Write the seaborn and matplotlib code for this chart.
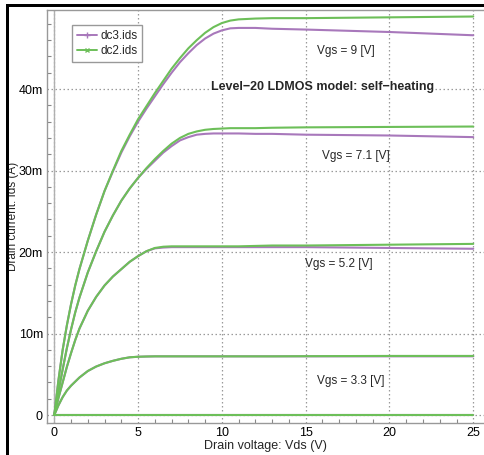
import matplotlib
matplotlib.use("Agg")
import matplotlib.pyplot as plt
import pandas as pd
import seaborn as sns
from matplotlib.lines import Line2D
from matplotlib.patches import Rectangle
from matplotlib.ticker import MultipleLocator, FuncFormatter

# Drain sweep points (V)
vds = [0, 0.25, 0.5, 0.75, 1, 1.25, 1.5, 2, 2.5, 3, 3.5, 4, 4.5, 5, 5.5, 6, 6.5,
       7, 7.5, 8, 8.5, 9, 9.5, 10, 10.5, 11, 12, 13, 15, 20, 25]

# Drain current (mA) per gate bias; dc3 = with self-heating, dc2 = without
ids_dc3_9v0 = [0, 4.3, 8.0, 11.0, 13.6, 15.9, 17.9, 21.4, 24.6, 27.5, 29.9, 32.2, 34.2, 36.0, 37.6, 39.1,
               40.6, 42.0, 43.3, 44.4, 45.4, 46.2, 46.8, 47.2, 47.45, 47.5, 47.5, 47.4, 47.3, 47.0, 46.6]
ids_dc2_9v0 = [0, 4.3, 8.0, 11.0, 13.6, 15.9, 17.9, 21.4, 24.6, 27.5, 30.0, 32.4, 34.4, 36.3, 37.9, 39.5,
               41.0, 42.5, 43.8, 45.0, 46.0, 46.9, 47.6, 48.1, 48.4, 48.55, 48.65, 48.7, 48.7, 48.8, 48.9]
ids_dc3_7v1 = [0, 2.9, 5.6, 8.2, 10.5, 12.6, 14.4, 17.5, 20.1, 22.5, 24.5, 26.3, 27.8, 29.1, 30.2, 31.2,
               32.2, 33.0, 33.7, 34.1, 34.4, 34.5, 34.55, 34.55, 34.55, 34.55, 34.5, 34.5, 34.4, 34.3, 34.1]
ids_dc2_7v1 = [0, 2.9, 5.6, 8.2, 10.5, 12.6, 14.4, 17.5, 20.1, 22.5, 24.5, 26.3, 27.8, 29.1, 30.3, 31.4,
               32.4, 33.3, 34.0, 34.5, 34.8, 35.0, 35.1, 35.15, 35.2, 35.2, 35.2, 35.25, 35.3, 35.35, 35.4]
ids_dc3_5v2 = [0, 2.1, 4.0, 5.9, 7.6, 9.2, 10.6, 12.8, 14.5, 15.9, 17.0, 17.9, 18.8, 19.5, 20.1, 20.45,
               20.55, 20.6, 20.6, 20.6, 20.6, 20.6, 20.6, 20.6, 20.6, 20.6, 20.6, 20.6, 20.6, 20.5, 20.4]
ids_dc2_5v2 = [0, 2.1, 4.0, 5.9, 7.6, 9.2, 10.6, 12.8, 14.5, 15.9, 17.0, 17.9, 18.8, 19.5, 20.1, 20.5,
               20.65, 20.7, 20.7, 20.7, 20.7, 20.7, 20.7, 20.7, 20.7, 20.7, 20.75, 20.8, 20.8, 20.9, 21.0]
ids_dc3_3v3 = [0, 1.2, 2.2, 3.0, 3.6, 4.1, 4.6, 5.4, 5.95, 6.35, 6.65, 6.9, 7.08, 7.15, 7.18, 7.2,
               7.2, 7.2, 7.2, 7.2, 7.2, 7.2, 7.2, 7.2, 7.2, 7.2, 7.2, 7.2, 7.2, 7.2, 7.2]
ids_dc2_3v3 = [0, 1.2, 2.2, 3.0, 3.6, 4.1, 4.6, 5.4, 5.95, 6.35, 6.65, 6.9, 7.08, 7.15, 7.18, 7.2,
               7.2, 7.2, 7.2, 7.2, 7.2, 7.2, 7.2, 7.2, 7.2, 7.2, 7.2, 7.2, 7.22, 7.25, 7.25]
ids_off = [0] * len(vds)

series_names = ["dc3.ids", "dc2.ids"]
vgs_labels = ["Vgs = 9 [V]", "Vgs = 7.1 [V]", "Vgs = 5.2 [V]", "Vgs = 3.3 [V]"]

curves = {
    "dc3.ids": {"9": ids_dc3_9v0, "7.1": ids_dc3_7v1, "5.2": ids_dc3_5v2, "3.3": ids_dc3_3v3, "0": ids_off},
    "dc2.ids": {"9": ids_dc2_9v0, "7.1": ids_dc2_7v1, "5.2": ids_dc2_5v2, "3.3": ids_dc2_3v3, "0": ids_off},
}

rows = []
for name in series_names:
    for vg, ids in curves[name].items():
        for v, i in zip(vds, ids):
            rows.append({"Vds": v, "Ids": i, "series": name, "Vgs": vg})
df = pd.DataFrame(rows)

purple = "#a878bb"
green = "#6dbf59"
palette = {"dc3.ids": purple, "dc2.ids": green}

sns.set_theme(style="white")
plt.rcParams["font.family"] = ["Liberation Sans", "DejaVu Sans"]

W, H = 484, 455
fig = plt.figure(figsize=(W / 100, H / 100), dpi=100)
ax = fig.add_axes([47 / W, 1 - 423 / H, (484 - 47) / W, (423 - 10) / H])

for name in series_names:
    sns.lineplot(data=df[df["series"] == name], x="Vds", y="Ids", units="Vgs",
                 estimator=None, color=palette[name], linewidth=1.5,
                 sort=False, legend=False, ax=ax)

ax.set_xlim(-0.435, 25.64)
ax.set_ylim(-0.98, 49.7)

ax.xaxis.set_major_locator(MultipleLocator(5))
ax.xaxis.set_minor_locator(MultipleLocator(1))
ax.yaxis.set_major_locator(MultipleLocator(10))
ax.yaxis.set_minor_locator(MultipleLocator(2))
ax.yaxis.set_major_formatter(FuncFormatter(lambda v, p: "0" if v == 0 else f"{v:g}m"))
ax.xaxis.set_major_formatter(FuncFormatter(lambda v, p: f"{v:g}"))

ax.grid(True, which="major", color="#9a9a9a", linestyle=(0, (1.2, 2.0)), linewidth=0.9)
ax.axvline(0, color="#b0b0b0", linewidth=1.0, zorder=1)

ax.tick_params(axis="x", which="major", direction="in", length=0, pad=3,
               labelsize=9, colors="#888888", labelcolor="black")
ax.tick_params(axis="y", which="major", direction="out", length=2.5, pad=0.5,
               labelsize=9, colors="#888888", labelcolor="black")
ax.tick_params(which="minor", direction="in", length=3, width=0.8, colors="#888888",
               bottom=True, left=True)

for side in ["left", "bottom", "top"]:
    ax.spines[side].set_color("#999999")
    ax.spines[side].set_linewidth(1.0)
ax.spines["right"].set_visible(False)

ax.set_xlabel("Drain voltage: Vds (V)", fontsize=9)
ax.set_ylabel("Drain current: Ids (A)", fontsize=8.5)
ax.xaxis.set_label_coords(0.5, -0.04)
ax.yaxis.set_label_coords(-0.063, 0.5)

ax.text(16.0, 40.2, "Level\u221220 LDMOS model: self\u2212heating", ha="center", va="center",
        fontsize=9, fontweight="bold",
        bbox=dict(facecolor="white", edgecolor="none", pad=0.5))
label_pos = [(17.4, 44.7), (18.0, 31.8), (17.0, 18.5), (17.7, 4.2)]
for txt, (x, y) in zip(vgs_labels, label_pos):
    ax.text(x, y, txt, ha="center", va="center", fontsize=8.5)

handles = [
    Line2D([], [], color=purple, linewidth=1.4, marker="+", markersize=4),
    Line2D([], [], color=green, linewidth=1.4, marker="x", markersize=3),
]
leg = ax.legend(handles, series_names, loc="upper left",
                bbox_to_anchor=((72 - 47) / 437, 1 - (25 - 10) / 413),
                fontsize=8.5, frameon=True, fancybox=False, framealpha=1,
                edgecolor="#999999", borderpad=0.4, handlelength=1.7,
                handletextpad=0.3, labelspacing=0.3, borderaxespad=0)
leg.get_frame().set_linewidth(1.0)

# heavy frame strokes along the left and top edges
fig.add_artist(Rectangle((6 / W, 0), 2.5 / W, 1 - 4 / H, transform=fig.transFigure,
                         facecolor="black", edgecolor="none"))
fig.add_artist(Rectangle((6 / W, 1 - 7 / H), 1, 3 / H, transform=fig.transFigure,
                         facecolor="black", edgecolor="none"))

fig.savefig("out.png", dpi=100)
